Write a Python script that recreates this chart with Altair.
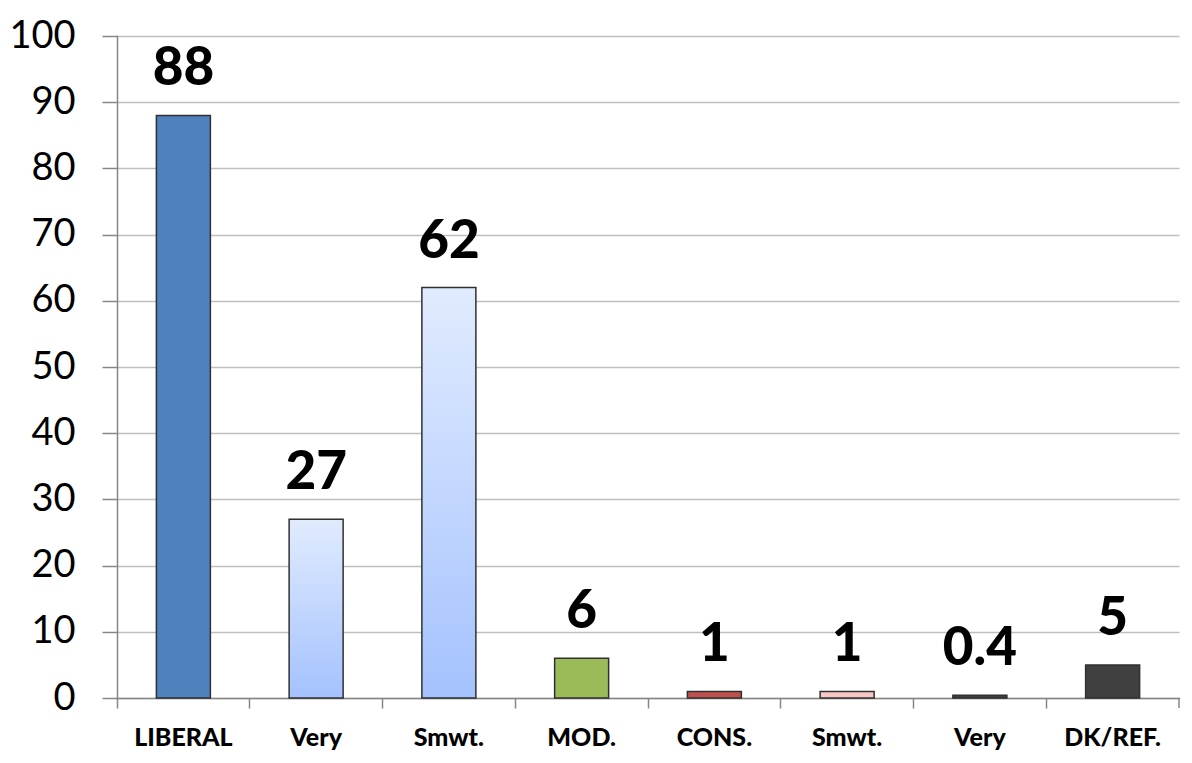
import altair as alt
import pandas as pd

keys = ["LIBERAL|a", "Very|lib", "Smwt.|lib", "MOD.|m", "CONS.|c", "Smwt.|cons", "Very|cons", "DK/REF.|d"]
values = [88, 27, 62, 6, 1, 1, 0.4, 5]
fills = ["#4F81BD", "grad", "grad", "#9BBB59", "#C0504D", "#F7C6C5", "#3F3F3F", "#404040"]

df = pd.DataFrame({"key": keys, "value": values, "fill": fills})

W, H = 1062, 662
FONT = "Lato"

x = alt.X("key:N", sort=keys, title=None,
          scale=alt.Scale(paddingInner=0, paddingOuter=0),
          axis=alt.Axis(labelExpr="split(datum.value, '|')[0]", labelAngle=0,
                        labelFont=FONT, labelFontSize=25, labelFontWeight=900,
                        labelColor="#000000", labelPadding=17,
                        bandPosition=0, tickSize=10, tickColor="#868686",
                        domainColor="#868686", domainWidth=1.5, tickWidth=1.5,
                        grid=False))
y = alt.Y("value:Q", title=None,
          scale=alt.Scale(domain=[0, 100], nice=False),
          axis=alt.Axis(values=list(range(0, 101, 10)), labelFont=FONT, labelFontSize=38,
                        labelColor="#000000", labelPadding=27, tickSize=15,
                        tickColor="#868686", domainColor="#868686", domainWidth=1.5,
                        tickWidth=1.5, gridColor="#BFBFBF", gridWidth=1.5))

base = alt.Chart(df)

solid = base.transform_filter("datum.fill != 'grad'").mark_bar(
    size=54, stroke="#303030", strokeWidth=1.5
).encode(x=x, y=y, fill=alt.Fill("fill:N", scale=None))

grad = base.transform_filter("datum.fill == 'grad'").mark_bar(
    size=54, stroke="#303030", strokeWidth=1.5,
    color=alt.Gradient(gradient="linear", x1=0, x2=0, y1=0, y2=1,
                       stops=[alt.GradientStop(color="#E1EBFE", offset=0),
                              alt.GradientStop(color="#A4C2FE", offset=1)])
).encode(x=x, y=y)

labels = base.mark_text(
    dy=-30, baseline="alphabetic", font=FONT, fontSize=53, fontWeight=900, color="#000000"
).encode(x=x, y=y, text=alt.Text("value:Q", format="~g"))

end_tick = alt.Chart(df.head(1)).mark_rule(color="#868686", strokeWidth=1.5).encode(
    x=alt.value(W), y=alt.value(H), y2=alt.value(H + 10))

chart = alt.layer(solid, grad, labels, end_tick).properties(
    width=W, height=H,
    autosize=alt.AutoSizeParams(type="none"),
    padding={"left": 109, "top": 28, "right": 2, "bottom": 56},
).configure_view(stroke=None).configure_axis(domainCap="square")

chart.save("out.html", embed_options={"renderer": "svg", "actions": False})
